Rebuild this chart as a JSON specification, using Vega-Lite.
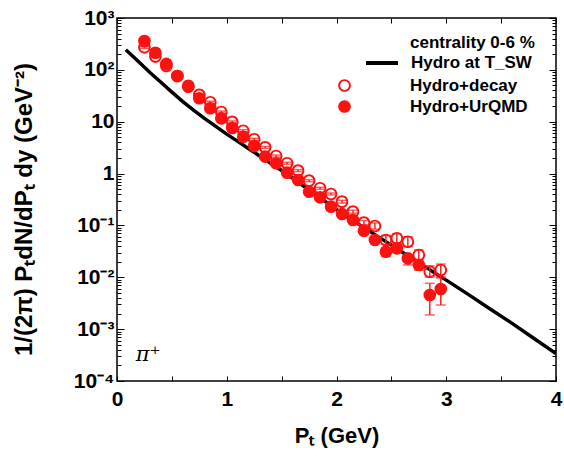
{
  "$schema": "https://vega.github.io/schema/vega-lite/v6.json",
  "autosize": "none",
  "width": 439,
  "height": 363,
  "padding": {"left": 117, "top": 18, "right": 8, "bottom": 78},
  "background": "white",
  "config": {
    "view": {"stroke": "black", "strokeWidth": 1.5},
    "font": "Liberation Sans",
    "axis": {"labelFont": "Liberation Sans", "titleFont": "Liberation Sans", "labelColor": "black", "titleColor": "black", "tickColor": "black", "domain": false, "grid": false}
  },
  "datasets": {
    "hydro": [
      {"pt": 0.08, "v": 245, "model": "Hydro at T_SW"},
      {"pt": 0.1, "v": 224, "model": "Hydro at T_SW"},
      {"pt": 0.2, "v": 141.3, "model": "Hydro at T_SW"},
      {"pt": 0.3, "v": 89.1, "model": "Hydro at T_SW"},
      {"pt": 0.4, "v": 57.5, "model": "Hydro at T_SW"},
      {"pt": 0.5, "v": 37.2, "model": "Hydro at T_SW"},
      {"pt": 0.6, "v": 24.5, "model": "Hydro at T_SW"},
      {"pt": 0.7, "v": 16.6, "model": "Hydro at T_SW"},
      {"pt": 0.8, "v": 11.5, "model": "Hydro at T_SW"},
      {"pt": 0.9, "v": 8.13, "model": "Hydro at T_SW"},
      {"pt": 1.0, "v": 5.75, "model": "Hydro at T_SW"},
      {"pt": 1.1, "v": 4.17, "model": "Hydro at T_SW"},
      {"pt": 1.2, "v": 3.02, "model": "Hydro at T_SW"},
      {"pt": 1.3, "v": 2.19, "model": "Hydro at T_SW"},
      {"pt": 1.4, "v": 1.585, "model": "Hydro at T_SW"},
      {"pt": 1.5, "v": 1.148, "model": "Hydro at T_SW"},
      {"pt": 1.6, "v": 0.813, "model": "Hydro at T_SW"},
      {"pt": 1.7, "v": 0.575, "model": "Hydro at T_SW"},
      {"pt": 1.8, "v": 0.407, "model": "Hydro at T_SW"},
      {"pt": 1.9, "v": 0.288, "model": "Hydro at T_SW"},
      {"pt": 2.0, "v": 0.204, "model": "Hydro at T_SW"},
      {"pt": 2.1, "v": 0.1445, "model": "Hydro at T_SW"},
      {"pt": 2.2, "v": 0.1059, "model": "Hydro at T_SW"},
      {"pt": 2.3, "v": 0.0776, "model": "Hydro at T_SW"},
      {"pt": 2.4, "v": 0.0569, "model": "Hydro at T_SW"},
      {"pt": 2.5, "v": 0.0417, "model": "Hydro at T_SW"},
      {"pt": 2.6, "v": 0.0305, "model": "Hydro at T_SW"},
      {"pt": 2.7, "v": 0.0224, "model": "Hydro at T_SW"},
      {"pt": 2.8, "v": 0.0164, "model": "Hydro at T_SW"},
      {"pt": 2.9, "v": 0.012, "model": "Hydro at T_SW"},
      {"pt": 3.0, "v": 0.00881, "model": "Hydro at T_SW"},
      {"pt": 3.2, "v": 0.00468, "model": "Hydro at T_SW"},
      {"pt": 3.4, "v": 0.00245, "model": "Hydro at T_SW"},
      {"pt": 3.6, "v": 0.00129, "model": "Hydro at T_SW"},
      {"pt": 3.8, "v": 0.000661, "model": "Hydro at T_SW"},
      {"pt": 4.0, "v": 0.000339, "model": "Hydro at T_SW"}
    ],
    "pts": [
      {"pt": 0.25, "v": 360, "lo": 327, "hi": 396, "series": "Hydro+UrQMD"},
      {"pt": 0.35, "v": 214, "lo": 195, "hi": 235, "series": "Hydro+UrQMD"},
      {"pt": 0.45, "v": 130, "lo": 118, "hi": 143, "series": "Hydro+UrQMD"},
      {"pt": 0.55, "v": 76, "lo": 69, "hi": 84, "series": "Hydro+UrQMD"},
      {"pt": 0.65, "v": 47.3, "lo": 43, "hi": 52, "series": "Hydro+UrQMD"},
      {"pt": 0.75, "v": 28.3, "lo": 25.7, "hi": 31.1, "series": "Hydro+UrQMD"},
      {"pt": 0.85, "v": 18.2, "lo": 16.5, "hi": 20, "series": "Hydro+UrQMD"},
      {"pt": 0.95, "v": 11.6, "lo": 10.5, "hi": 12.8, "series": "Hydro+UrQMD"},
      {"pt": 1.05, "v": 7.57, "lo": 6.88, "hi": 8.33, "series": "Hydro+UrQMD"},
      {"pt": 1.15, "v": 5.14, "lo": 4.67, "hi": 5.65, "series": "Hydro+UrQMD"},
      {"pt": 1.25, "v": 3.4, "lo": 3.09, "hi": 3.74, "series": "Hydro+UrQMD"},
      {"pt": 1.35, "v": 2.12, "lo": 1.93, "hi": 2.33, "series": "Hydro+UrQMD"},
      {"pt": 1.45, "v": 1.58, "lo": 1.44, "hi": 1.74, "series": "Hydro+UrQMD"},
      {"pt": 1.55, "v": 1.04, "lo": 0.945, "hi": 1.14, "series": "Hydro+UrQMD"},
      {"pt": 1.65, "v": 0.752, "lo": 0.684, "hi": 0.827, "series": "Hydro+UrQMD"},
      {"pt": 1.75, "v": 0.448, "lo": 0.407, "hi": 0.493, "series": "Hydro+UrQMD"},
      {"pt": 1.85, "v": 0.349, "lo": 0.317, "hi": 0.384, "series": "Hydro+UrQMD"},
      {"pt": 1.95, "v": 0.23, "lo": 0.209, "hi": 0.253, "series": "Hydro+UrQMD"},
      {"pt": 2.05, "v": 0.166, "lo": 0.151, "hi": 0.183, "series": "Hydro+UrQMD"},
      {"pt": 2.15, "v": 0.127, "lo": 0.115, "hi": 0.14, "series": "Hydro+UrQMD"},
      {"pt": 2.25, "v": 0.0792, "lo": 0.07, "hi": 0.09, "series": "Hydro+UrQMD"},
      {"pt": 2.35, "v": 0.0524, "lo": 0.046, "hi": 0.06, "series": "Hydro+UrQMD"},
      {"pt": 2.45, "v": 0.0312, "lo": 0.0252, "hi": 0.0367, "series": "Hydro+UrQMD"},
      {"pt": 2.55, "v": 0.0362, "lo": 0.03, "hi": 0.043, "series": "Hydro+UrQMD"},
      {"pt": 2.65, "v": 0.0232, "lo": 0.0173, "hi": 0.0269, "series": "Hydro+UrQMD"},
      {"pt": 2.75, "v": 0.0173, "lo": 0.0138, "hi": 0.02, "series": "Hydro+UrQMD"},
      {"pt": 2.85, "v": 0.00456, "lo": 0.00188, "hi": 0.00766, "series": "Hydro+UrQMD"},
      {"pt": 2.95, "v": 0.00594, "lo": 0.00292, "hi": 0.0097, "series": "Hydro+UrQMD"},
      {"pt": 0.25, "v": 272, "lo": 260, "hi": 284, "series": "Hydro+decay"},
      {"pt": 0.35, "v": 180, "lo": 172, "hi": 188, "series": "Hydro+decay"},
      {"pt": 0.45, "v": 119, "lo": 114, "hi": 124, "series": "Hydro+decay"},
      {"pt": 0.55, "v": 76, "lo": 72.7, "hi": 79.4, "series": "Hydro+decay"},
      {"pt": 0.65, "v": 49, "lo": 46.9, "hi": 51.2, "series": "Hydro+decay"},
      {"pt": 0.75, "v": 33, "lo": 31.6, "hi": 34.5, "series": "Hydro+decay"},
      {"pt": 0.85, "v": 23.7, "lo": 22.7, "hi": 24.8, "series": "Hydro+decay"},
      {"pt": 0.95, "v": 15.4, "lo": 14.7, "hi": 16.1, "series": "Hydro+decay"},
      {"pt": 1.05, "v": 9.9, "lo": 9.47, "hi": 10.35, "series": "Hydro+decay"},
      {"pt": 1.15, "v": 6.7, "lo": 6.41, "hi": 7.0, "series": "Hydro+decay"},
      {"pt": 1.25, "v": 4.58, "lo": 4.38, "hi": 4.79, "series": "Hydro+decay"},
      {"pt": 1.35, "v": 3.21, "lo": 3.07, "hi": 3.35, "series": "Hydro+decay"},
      {"pt": 1.45, "v": 2.18, "lo": 2.08, "hi": 2.28, "series": "Hydro+decay"},
      {"pt": 1.55, "v": 1.58, "lo": 1.51, "hi": 1.65, "series": "Hydro+decay"},
      {"pt": 1.65, "v": 1.14, "lo": 1.09, "hi": 1.19, "series": "Hydro+decay"},
      {"pt": 1.75, "v": 0.729, "lo": 0.697, "hi": 0.762, "series": "Hydro+decay"},
      {"pt": 1.85, "v": 0.52, "lo": 0.497, "hi": 0.543, "series": "Hydro+decay"},
      {"pt": 1.95, "v": 0.404, "lo": 0.386, "hi": 0.422, "series": "Hydro+decay"},
      {"pt": 2.05, "v": 0.287, "lo": 0.27, "hi": 0.305, "series": "Hydro+decay"},
      {"pt": 2.15, "v": 0.184, "lo": 0.172, "hi": 0.197, "series": "Hydro+decay"},
      {"pt": 2.25, "v": 0.113, "lo": 0.103, "hi": 0.124, "series": "Hydro+decay"},
      {"pt": 2.35, "v": 0.0975, "lo": 0.085, "hi": 0.112, "series": "Hydro+decay"},
      {"pt": 2.45, "v": 0.0524, "lo": 0.043, "hi": 0.064, "series": "Hydro+decay"},
      {"pt": 2.55, "v": 0.0565, "lo": 0.0443, "hi": 0.0687, "series": "Hydro+decay"},
      {"pt": 2.65, "v": 0.0485, "lo": 0.0389, "hi": 0.0605, "series": "Hydro+decay"},
      {"pt": 2.75, "v": 0.0269, "lo": 0.0216, "hi": 0.0336, "series": "Hydro+decay"},
      {"pt": 2.85, "v": 0.0128, "lo": 0.0101, "hi": 0.0166, "series": "Hydro+decay"},
      {"pt": 2.95, "v": 0.0138, "lo": 0.0101, "hi": 0.018, "series": "Hydro+decay"}
    ],
    "notes": [
      {"pt": 0.17, "v": 0.00032, "label": "π⁺", "kind": "pi"},
      {"pt": 2.67, "v": 330, "label": "centrality 0-6 %", "kind": "cent"}
    ]
  },
  "resolve": {"axis": {"x": "independent", "y": "independent"}},
  "layer": [
    {
      "data": {"name": "hydro"},
      "mark": {"type": "line", "strokeWidth": 3.5, "clip": true},
      "encoding": {
        "x": {"field": "pt", "type": "quantitative", "scale": {"domain": [0, 4], "nice": false, "zero": false},
          "axis": {"orient": "bottom", "values": [0, 0.5, 1, 1.5, 2, 2.5, 3, 3.5, 4], "labelExpr": "datum.value % 1 == 0 ? format(datum.value, 'd') : ''", "tickSize": -5, "labelPadding": 12, "labelFontSize": 21, "labelFontWeight": "bold", "labelFlush": false, "title": "Pₜ (GeV)", "titleFontSize": 22, "titleFontWeight": "bold", "titleBaseline": "middle", "titleY": 54}},
        "y": {"field": "v", "type": "quantitative", "scale": {"type": "log", "domain": [0.0001, 1000], "nice": false},
          "axis": {"orient": "left", "values": [0.0001, 0.001, 0.01, 0.1, 1, 10, 100, 1000], "labelExpr": "datum.value >= 999 ? '10³' : datum.value >= 99 ? '10²' : datum.value >= 9 ? '10' : datum.value >= 0.9 ? '1' : datum.value >= 0.09 ? '10⁻¹' : datum.value >= 0.009 ? '10⁻²' : datum.value >= 0.0009 ? '10⁻³' : '10⁻⁴'", "tickSize": -7, "labelPadding": 10, "labelFontSize": 21, "labelFontWeight": "bold", "labelFlush": false, "labelBaseline": "middle", "title": "1/(2π) PₜdN/dPₜ dy (GeV⁻²)", "titleFontSize": 24, "titleFontWeight": "bold", "titleAngle": -90, "titleAlign": "center", "titleBaseline": "middle", "titleX": -93, "titleY": 191}},
        "stroke": {"field": "model", "type": "nominal", "scale": {"domain": ["Hydro at T_SW"], "range": ["black"]},
          "legend": {"orient": "none", "legendX": 247, "legendY": 27, "title": null, "symbolType": "stroke", "symbolSize": 1024, "symbolStrokeWidth": 4, "labelFontSize": 17, "labelFontWeight": "bold", "labelColor": "black", "labelOffset": 11}}
      }
    },
    {
      "data": {"name": "pts"},
      "mark": {"type": "rule", "color": "#ff2020", "strokeWidth": 1.5},
      "encoding": {
        "x": {"field": "pt", "type": "quantitative", "axis": {"orient": "top", "values": [0, 0.5, 1, 1.5, 2, 2.5, 3, 3.5, 4], "labels": false, "tickSize": -5, "title": null}},
        "y": {"field": "lo", "type": "quantitative", "axis": {"orient": "right", "values": [0.0001, 0.001, 0.01, 0.1, 1, 10, 100, 1000], "labels": false, "tickSize": -7, "title": null}},
        "y2": {"field": "hi"}
      }
    },
    {
      "data": {"name": "pts"},
      "mark": {"type": "tick", "orient": "horizontal", "color": "#ff2020", "thickness": 1.5, "size": 10},
      "encoding": {
        "x": {"field": "pt", "type": "quantitative", "axis": null},
        "y": {"field": "lo", "type": "quantitative", "axis": {"orient": "left", "values": [0.0002, 0.0003, 0.0004, 0.0005, 0.0006, 0.0007, 0.0008, 0.0009, 0.002, 0.003, 0.004, 0.005, 0.006, 0.007, 0.008, 0.009, 0.02, 0.03, 0.04, 0.05, 0.06, 0.07, 0.08, 0.09, 0.2, 0.3, 0.4, 0.5, 0.6, 0.7, 0.8, 0.9, 2, 3, 4, 5, 6, 7, 8, 9, 20, 30, 40, 50, 60, 70, 80, 90, 200, 300, 400, 500, 600, 700, 800, 900], "labels": false, "tickSize": -4, "title": null}}
      }
    },
    {
      "data": {"name": "pts"},
      "mark": {"type": "tick", "orient": "horizontal", "color": "#ff2020", "thickness": 1.5, "size": 10},
      "encoding": {
        "x": {"field": "pt", "type": "quantitative", "axis": null},
        "y": {"field": "hi", "type": "quantitative", "axis": {"orient": "right", "values": [0.0002, 0.0003, 0.0004, 0.0005, 0.0006, 0.0007, 0.0008, 0.0009, 0.002, 0.003, 0.004, 0.005, 0.006, 0.007, 0.008, 0.009, 0.02, 0.03, 0.04, 0.05, 0.06, 0.07, 0.08, 0.09, 0.2, 0.3, 0.4, 0.5, 0.6, 0.7, 0.8, 0.9, 2, 3, 4, 5, 6, 7, 8, 9, 20, 30, 40, 50, 60, 70, 80, 90, 200, 300, 400, 500, 600, 700, 800, 900], "labels": false, "tickSize": -4, "title": null}}
      }
    },
    {
      "data": {"name": "pts"},
      "mark": {"type": "point", "filled": true, "color": "#ff1010", "strokeWidth": 0, "opacity": 1},
      "encoding": {
        "x": {"field": "pt", "type": "quantitative", "axis": null},
        "y": {"field": "v", "type": "quantitative", "axis": null},
        "shape": {"field": "series", "type": "nominal", "scale": {"domain": ["Hydro+decay", "Hydro+UrQMD"], "range": ["M -1 0 A 1 1 0 1 1 1 0 A 1 1 0 1 1 -1 0 Z M -0.7 0 A 0.7 0.7 0 1 0 0.7 0 A 0.7 0.7 0 1 0 -0.7 0 Z", "circle"]},
          "legend": {"orient": "none", "legendX": 219, "legendY": 59, "title": null, "symbolSize": 160, "symbolFillColor": "#ff1010", "symbolStrokeWidth": 0, "symbolOpacity": 1, "labelFontSize": 17, "labelFontWeight": "bold", "labelColor": "black", "labelOffset": 57, "rowPadding": 3}},
        "size": {"value": 160}
      }
    },
    {
      "data": {"name": "notes"},
      "transform": [{"filter": "datum.kind == 'pi'"}],
      "mark": {"type": "text", "align": "left", "baseline": "middle", "font": "DejaVu Serif", "fontStyle": "italic", "fontSize": 21, "color": "black"},
      "encoding": {
        "x": {"field": "pt", "type": "quantitative", "axis": null},
        "y": {"field": "v", "type": "quantitative", "axis": null},
        "text": {"field": "label"}
      }
    },
    {
      "data": {"name": "notes"},
      "transform": [{"filter": "datum.kind == 'cent'"}],
      "mark": {"type": "text", "align": "left", "baseline": "middle", "fontSize": 17, "fontWeight": "bold", "color": "black"},
      "encoding": {
        "x": {"field": "pt", "type": "quantitative", "axis": null},
        "y": {"field": "v", "type": "quantitative", "axis": null},
        "text": {"field": "label"}
      }
    }
  ]
}
